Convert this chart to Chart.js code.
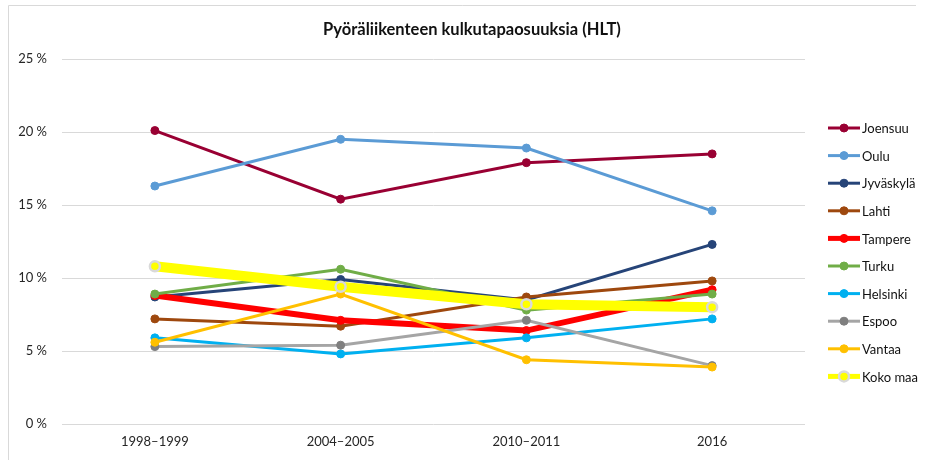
<!DOCTYPE html>
<html>
<head>
<meta charset="utf-8">
<script src="https://cdn.jsdelivr.net/npm/chart.js@4/dist/chart.umd.min.js"></script>
<style>
    html, body { margin: 0; padding: 0; background: #ffffff; }
    #wrap { width: 925px; height: 460px; position: relative; }
</style>
</head>
<body>
<div id="wrap"><canvas id="chart"></canvas></div>
<script>
// Pyöräliikenteen kulkutapaosuudet (%)
const periods = ['1998–1999', '2004–2005', '2010–2011', '2016'];

const joensuu   = [20.1, 15.4, 17.9, 18.5];
const oulu      = [16.3, 19.5, 18.9, 14.6];
const jyvaskyla = [8.7, 9.9, 8.5, 12.3];
const lahti     = [7.2, 6.7, 8.7, 9.8];
const tampere   = [8.8, 7.1, 6.4, 9.2];
const turku     = [8.9, 10.6, 7.8, 8.9];
const helsinki  = [5.9, 4.8, 5.9, 7.2];
const espoo     = [5.3, 5.4, 7.1, 4.0];
const vantaa    = [5.6, 8.9, 4.4, 3.9];
const kokoMaa   = [10.8, 9.4, 8.2, 8.0];

const yTicks = [0, 5, 10, 15, 20, 25];

const fontFamily = 'Lato, "Open Sans", sans-serif';

// sarjat: nimi, data, viivan väri, merkin väri, viivan paksuus
const seriesDefs = [
    ['Joensuu', joensuu, '#990033', '#990033', 3],
    ['Oulu', oulu, '#5b9bd5', '#5b9bd5', 3],
    ['Jyväskylä', jyvaskyla, '#264478', '#264478', 3],
    ['Lahti', lahti, '#9e480e', '#9e480e', 3],
    ['Tampere', tampere, '#ff0000', '#ff0000', 6],
    ['Turku', turku, '#70ad47', '#70ad47', 3],
    ['Helsinki', helsinki, '#00b0f0', '#00b0f0', 3],
    ['Espoo', espoo, '#a5a5a5', '#7f7f7f', 3],
    ['Vantaa', vantaa, '#ffc000', '#ffc000', 3],
    ['Koko maa', kokoMaa, '#ffff00', '#ffff00', 10]
];

const datasets = seriesDefs.map(([label, data, color, marker, width], i) => {
    const isTotal = label === 'Koko maa';
    return {
        label: label,
        data: data,
        borderColor: color,
        backgroundColor: marker,
        borderWidth: width,
        tension: 0,
        pointRadius: isTotal ? 5 : 4,
        pointBackgroundColor: marker,
        pointBorderColor: isTotal ? '#d9d9d9' : marker,
        pointBorderWidth: isTotal ? 2.5 : 1,
        order: seriesDefs.length - i
    };
});

// kehys, otsikko ja selite piirretään itse Excelin tapaan
const decorPlugin = {
    id: 'decor',
    beforeDraw(chart) {
        const ctx = chart.ctx;
        ctx.save();
        ctx.strokeStyle = '#d9d9d9';
        ctx.lineWidth = 1;
        ctx.beginPath();
        ctx.moveTo(8.5, 460);
        ctx.lineTo(8.5, 5.5);
        ctx.lineTo(916, 5.5);
        ctx.stroke();
        ctx.restore();
    },
    afterDraw(chart) {
        const ctx = chart.ctx;
        ctx.save();
        ctx.fillStyle = '#111111';
        ctx.font = 'bold 16.5px ' + fontFamily;
        ctx.textAlign = 'center';
        ctx.textBaseline = 'middle';
        ctx.fillText('Pyöräliikenteen kulkutapaosuuksia (HLT)', 472, 30);

        ctx.font = '13px ' + fontFamily;
        ctx.textAlign = 'left';
        chart.data.datasets.forEach((ds, i) => {
            const y = 128 + i * 27.6;
            ctx.strokeStyle = ds.borderColor;
            ctx.lineWidth = Math.min(ds.borderWidth, 5);
            ctx.beginPath();
            ctx.moveTo(828, y);
            ctx.lineTo(860, y);
            ctx.stroke();
            ctx.beginPath();
            ctx.arc(844, y, ds.pointRadius, 0, Math.PI * 2);
            ctx.fillStyle = ds.pointBackgroundColor;
            ctx.fill();
            ctx.lineWidth = ds.pointBorderWidth;
            ctx.strokeStyle = ds.pointBorderColor;
            ctx.stroke();
            ctx.fillStyle = '#111111';
            ctx.fillText(ds.label, 862, y + 1);
        });
        ctx.restore();
    }
};

new Chart(document.getElementById('chart'), {
    type: 'line',
    data: { labels: periods, datasets: datasets },
    options: {
        responsive: true,
        maintainAspectRatio: false,
        animation: false,
        layout: { padding: { left: 0, right: 120, top: 59, bottom: 0 } },
        plugins: {
            legend: { display: false },
            title: { display: false },
            tooltip: { enabled: false }
        },
        scales: {
            x: {
                type: 'category',
                offset: true,
                grid: { display: false, drawTicks: false },
                border: { display: false },
                ticks: {
                    padding: 10,
                    color: '#262626',
                    font: { family: fontFamily, size: 13 },
                    maxRotation: 0
                },
                afterFit: s => { s.height = 36; }
            },
            y: {
                min: 0,
                max: 25,
                afterBuildTicks: s => { s.ticks = yTicks.map(v => ({ value: v })); },
                grid: { color: '#d9d9d9', lineWidth: 1, drawTicks: false },
                border: { display: false },
                ticks: {
                    padding: 15,
                    color: '#262626',
                    font: { family: fontFamily, size: 13 },
                    callback: v => v + ' %'
                },
                afterFit: s => { s.width = 62; }
            }
        }
    },
    plugins: [decorPlugin]
});
</script>
</body>
</html>
